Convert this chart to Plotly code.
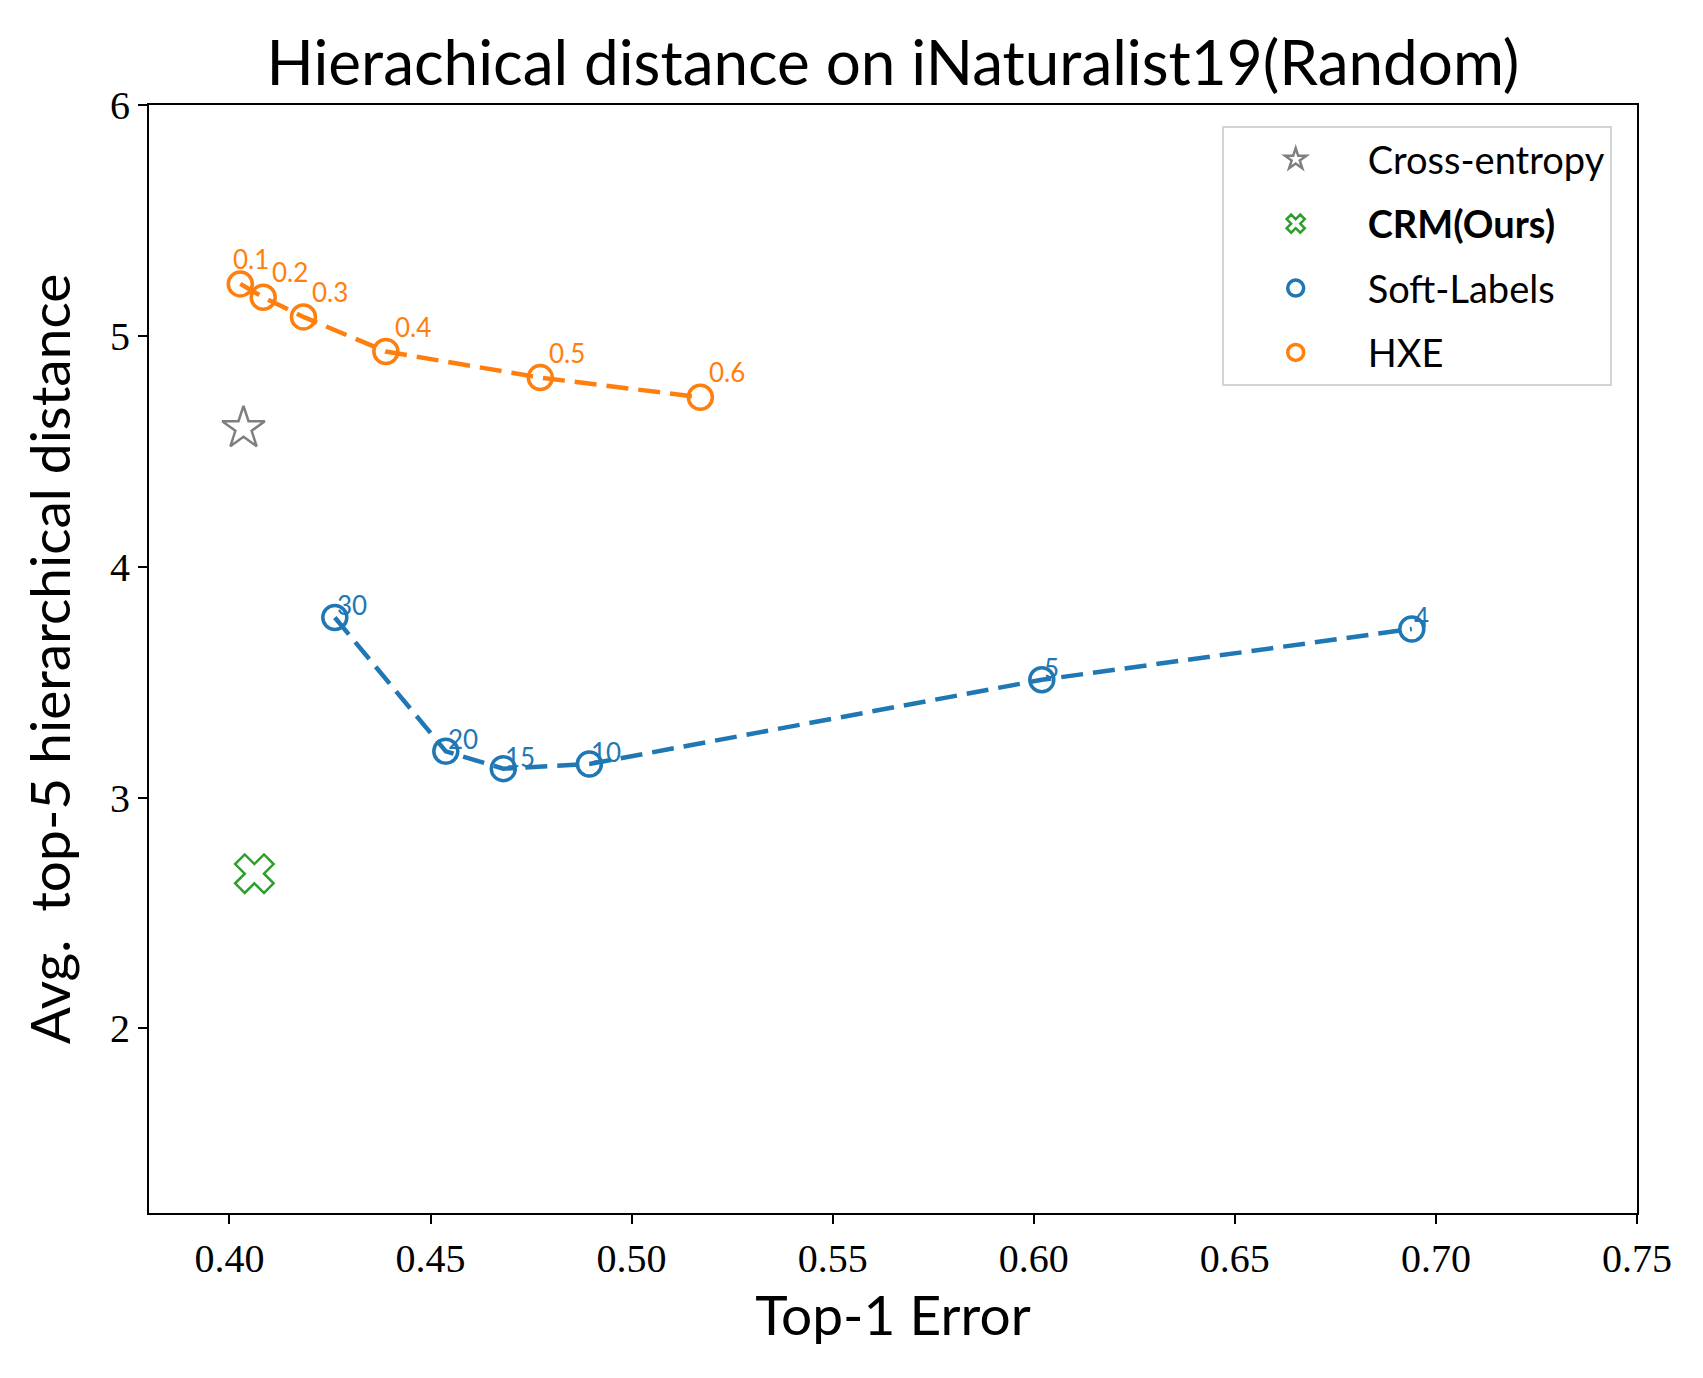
import plotly.graph_objects as go

# valores
ce_err = [0.4035]
ce_dist = [4.60]

crm_err = [0.4062]
crm_dist = [2.67]

soft_err = [0.4262, 0.4538, 0.4681, 0.4895, 0.6020, 0.6940]
soft_dist = [3.78, 3.20, 3.125, 3.145, 3.51, 3.73]
soft_labels = ["30", "20", "15", "10", "5", "4"]

hxe_err = [0.4027, 0.4084, 0.4184, 0.4389, 0.4773, 0.5171]
hxe_dist = [5.225, 5.167, 5.082, 4.932, 4.819, 4.734]
hxe_labels = ["0.1", "0.2", "0.3", "0.4", "0.5", "0.6"]

x_ticks = [0.40, 0.45, 0.50, 0.55, 0.60, 0.65, 0.70, 0.75]
y_ticks = [2, 3, 4, 5, 6]

BLUE = "#1f77b4"
ORANGE = "#ff7f0e"
GREEN = "#2ca02c"
GRAY = "#7f7f7f"
SANS = "Lato, 'Noto Sans', sans-serif"
SERIF = "'Liberation Serif', 'DejaVu Serif', serif"

fig = go.Figure()

# lineas discontinuas (sin leyenda)
for xs, ys, c in [(soft_err, soft_dist, BLUE), (hxe_err, hxe_dist, ORANGE)]:
    fig.add_trace(go.Scatter(x=xs, y=ys, mode="lines",
                             line=dict(color=c, width=4.5, dash="22px,10px"),
                             showlegend=False, hoverinfo="skip"))

fig.add_trace(go.Scatter(x=ce_err, y=ce_dist, mode="markers", name="Cross-entropy",
                         legendgroup="ce",
                         marker=dict(symbol="star-open", size=32, color=GRAY,
                                     line=dict(width=2.5, color=GRAY))))
fig.add_trace(go.Scatter(x=crm_err, y=crm_dist, mode="markers", name="<b>CRM(Ours)</b>",
                         legendgroup="crm",
                         marker=dict(symbol="x-open", size=34, color=GREEN,
                                     line=dict(width=2.5, color=GREEN))))
fig.add_trace(go.Scatter(x=soft_err, y=soft_dist, mode="markers", name="Soft-Labels",
                         legendgroup="soft",
                         marker=dict(symbol="circle-open", size=24, color=BLUE,
                                     line=dict(width=3.5, color=BLUE))))
fig.add_trace(go.Scatter(x=hxe_err, y=hxe_dist, mode="markers", name="HXE",
                         legendgroup="hxe",
                         marker=dict(symbol="circle-open", size=24, color=ORANGE,
                                     line=dict(width=3.5, color=ORANGE))))

# etiquetas de cada punto
for xs, ys, labs, c, dx, dy in [(soft_err, soft_dist, soft_labels, BLUE, 0, -6),
                                (hxe_err, hxe_dist, hxe_labels, ORANGE, 7, 7)]:
    for x, y, t in zip(xs, ys, labs):
        sx = -9 if t == "0.1" else dx
        fig.add_annotation(x=x, y=y, text=t, showarrow=False,
                           xanchor="left", yanchor="bottom", xshift=sx, yshift=dy,
                           font=dict(family=SANS, size=26, color=c))

fig.update_xaxes(range=[0.38, 0.75], tickvals=x_ticks,
                 ticktext=[f"{v:.2f}" for v in x_ticks],
                 showline=True, linecolor="black", linewidth=2, mirror=True,
                 ticks="outside", ticklen=9, tickwidth=2, tickcolor="black",
                 showgrid=False, zeroline=False, automargin=False,
                 tickfont=dict(family=SERIF, size=40, color="black"),
                 title=dict(text="Top-1 Error", font=dict(family=SANS, size=55, color="black"),
                            standoff=12))
fig.update_yaxes(range=[1.2, 6], tickvals=y_ticks,
                 showline=True, linecolor="black", linewidth=2, mirror=True,
                 ticks="outside", ticklen=9, tickwidth=2, tickcolor="black",
                 showgrid=False, zeroline=False, automargin=False,
                 tickfont=dict(family=SERIF, size=40, color="black"),
                 title=dict(text="Avg.  top-5 hierarchical distance",
                            font=dict(family=SANS, size=55, color="black"), standoff=22))

fig.update_layout(
    width=1695, height=1370,
    margin=dict(l=141, r=66, t=97, b=165),
    plot_bgcolor="white", paper_bgcolor="white",
    title=dict(text="Hierachical distance on iNaturalist19(Random)",
               x=(141 + 1629) / 2 / 1695, xanchor="center", y=0.960, yanchor="middle",
               font=dict(family=SANS, size=62, color="black")),
    legend=dict(x=0.983, y=0.981, xanchor="right", yanchor="top",
                bgcolor="rgba(255,255,255,0.8)", bordercolor="#d4d4d4", borderwidth=2,
                font=dict(family=SANS, size=38, color="black"),
                itemsizing="trace", itemwidth=134, tracegroupgap=12,
                traceorder="grouped"),
)

fig.write_html("out.html")
